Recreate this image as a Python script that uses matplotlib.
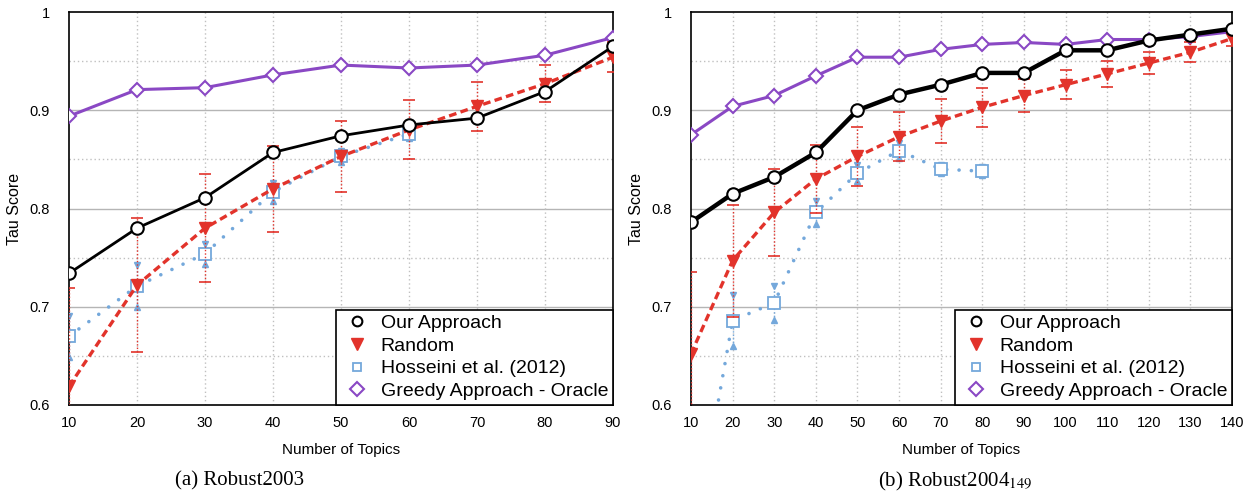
import matplotlib
matplotlib.use("Agg")
import matplotlib.pyplot as plt
from matplotlib.lines import Line2D
import numpy as np

plt.rcParams['font.family'] = ['Liberation Sans', 'DejaVu Sans']
plt.rcParams['mathtext.fontset'] = 'stix'

# Robust2003 results
left_x = [10, 20, 30, 40, 50, 60, 70, 80, 90]
left_ours = [0.734, 0.780, 0.811, 0.857, 0.874, 0.885, 0.892, 0.919, 0.965]
left_rand = [0.619, 0.722, 0.780, 0.820, 0.853, 0.880, 0.904, 0.927, 0.954]
left_rand_err = [0.100, 0.068, 0.055, 0.044, 0.036, 0.030, 0.025, 0.019, 0.015]
left_hoss_x = [10, 20, 30, 40, 50, 60]
left_hoss = [0.670, 0.721, 0.754, 0.817, 0.853, 0.876]
left_hoss_err = [0.021, 0.021, 0.010, 0.009, 0.006, 0.004]
left_greedy = [0.894, 0.921, 0.923, 0.936, 0.946, 0.943, 0.946, 0.956, 0.974]

# Robust2004 (149 topics) results
right_x = [10, 20, 30, 40, 50, 60, 70, 80, 90, 100, 110, 120, 130, 140]
right_ours = [0.786, 0.815, 0.832, 0.857, 0.900, 0.916, 0.926, 0.938, 0.938,
              0.961, 0.961, 0.971, 0.977, 0.983]
right_rand = [0.652, 0.747, 0.796, 0.830, 0.853, 0.873, 0.889, 0.903, 0.915,
              0.926, 0.937, 0.948, 0.959, 0.973]
right_rand_err = [0.083, 0.057, 0.044, 0.035, 0.030, 0.025, 0.022, 0.020, 0.017,
                  0.015, 0.013, 0.011, 0.010, 0.008]
right_hoss_x = [10, 20, 30, 40, 50, 60, 70, 80]
right_hoss = [0.447, 0.686, 0.704, 0.796, 0.836, 0.859, 0.840, 0.838]
right_hoss_err = [0.0, 0.026, 0.017, 0.012, 0.008, 0.008, 0.004, 0.004]
right_greedy = [0.875, 0.904, 0.915, 0.935, 0.954, 0.954, 0.962, 0.967, 0.969,
                0.967, 0.972, 0.972, 0.975, 0.980]

labels = ['Our Approach', 'Random', 'Hosseini et al. (2012)', 'Greedy Approach - Oracle']
captions = ['(a) Robust2003', r'(b) Robust2004$_{149}$']

RED = '#e2332b'
BLUE = '#74a8db'
PURPLE = '#8a48c4'

fig = plt.figure(figsize=(12.56, 4.96), dpi=100)
ax1 = fig.add_axes([69 / 1256, 91 / 496, 544 / 1256, 393 / 496])
ax2 = fig.add_axes([691 / 1256, 91 / 496, 541 / 1256, 393 / 496])


def draw_panel(ax, x, ours, rand, rand_err, hx, hoss, hoss_err, greedy, ours_lw):
    ax.set_xlim(x[0], x[-1])
    ax.set_ylim(0.6, 1.0)
    ax.set_xticks(x)
    ax.set_yticks([0.6, 0.7, 0.8, 0.9, 1.0])
    ax.set_yticklabels(['0.6', '0.7', '0.8', '0.9', '1'])
    ax.tick_params(length=0, labelsize=10.5)
    ax.tick_params(axis='y', pad=14)
    ax.tick_params(axis='x', pad=8)

    # grid: solid major rows, dotted half rows and columns
    for yv in [0.7, 0.8, 0.9]:
        ax.axhline(yv, color='#b5b5b5', lw=1.0, zorder=0)
    for yv in [0.65, 0.75, 0.85, 0.95]:
        ax.axhline(yv, color='#c0c0c0', lw=1.0, ls=(0, (1, 2)), zorder=0)
    for xv in x[1:-1]:
        ax.axvline(xv, color='#c0c0c0', lw=1.0, ls=(0, (1, 2)), zorder=0)

    ax.plot(x, greedy, color=PURPLE, lw=2.2, marker='D', ms=7, mfc='white',
            mec=PURPLE, mew=1.5, zorder=3)

    # Hosseini et al. with dotted bars and triangle caps
    hx = np.array(hx)
    hoss = np.array(hoss)
    hoss_err = np.array(hoss_err)
    ax.plot(hx, hoss, color=BLUE, lw=2.6, dashes=(0.01, 3.4),
            dash_capstyle='round', zorder=3)
    has_err = hoss_err > 0
    ax.vlines(hx[has_err], (hoss - hoss_err)[has_err], (hoss + hoss_err)[has_err],
              color=BLUE, lw=1.0, linestyles=(0, (1, 1.5)), zorder=3)
    ax.plot(hx[has_err], (hoss + hoss_err)[has_err], 'v', color=BLUE, ms=4, zorder=3)
    ax.plot(hx[has_err], (hoss - hoss_err)[has_err], '^', color=BLUE, ms=4, zorder=3)
    ax.plot(hx, hoss, 's', ms=8, mfc='white', mec=BLUE, mew=1.3, zorder=4)

    # Random baseline with error bars
    eb = ax.errorbar(x, rand, yerr=rand_err, color=RED, lw=2.4, dashes=(2.3, 1.3),
                     marker='v', ms=8.5, mfc=RED, mec=RED, ecolor=RED,
                     elinewidth=1.0, capsize=4, capthick=1.2, zorder=5)
    eb[2][0].set_linestyle((0, (1, 1.5)))

    ax.plot(x, ours, color='black', lw=ours_lw, marker='o', ms=9, mfc='white',
            mec='black', mew=1.5, zorder=6)

    for s in ax.spines.values():
        s.set_linewidth(1.2)
    ax.set_xlabel('Number of Topics', fontsize=11, labelpad=9)
    ax.set_ylabel('Tau Score', fontsize=11.5, labelpad=5)

    handles = [
        Line2D([], [], ls='none', marker='o', ms=7, mfc='white', mec='black', mew=1.5),
        Line2D([], [], ls='none', marker='v', ms=8, mfc=RED, mec=RED),
        Line2D([], [], ls='none', marker='s', ms=6, mfc='white', mec=BLUE, mew=1.3),
        Line2D([], [], ls='none', marker='D', ms=7, mfc='white', mec=PURPLE, mew=1.5),
    ]
    leg = ax.legend(handles, labels, loc='lower right', borderaxespad=0,
                    fontsize=14, handlelength=1.7, handletextpad=0.35,
                    labelspacing=0.26, borderpad=0.25, fancybox=False,
                    framealpha=1, edgecolor='black')
    leg.get_frame().set_linewidth(1.2)
    leg.set_zorder(10)


draw_panel(ax1, left_x, left_ours, left_rand, left_rand_err,
           left_hoss_x, left_hoss, left_hoss_err, left_greedy, 2.0)
draw_panel(ax2, right_x, right_ours, right_rand, right_rand_err,
           right_hoss_x, right_hoss, right_hoss_err, right_greedy, 3.2)

fig.text(240 / 1256, 1 - 481 / 496, captions[0], ha='center', va='center',
         fontsize=15, family='Liberation Serif')
fig.text(955 / 1256, 1 - 481 / 496, captions[1], ha='center', va='center',
         fontsize=15, family='Liberation Serif')

fig.savefig('out.png', dpi=100)
